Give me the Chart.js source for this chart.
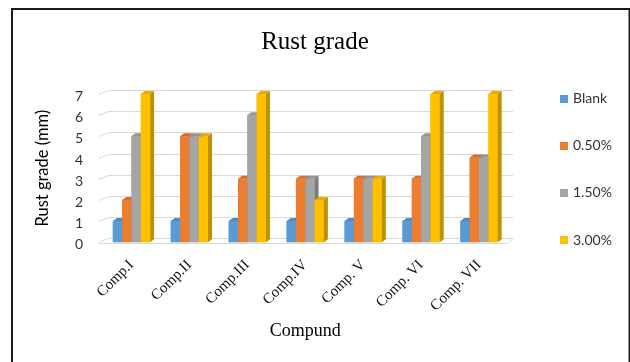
<!DOCTYPE html>
<html>
<head>
<meta charset="utf-8">
<script src="https://cdn.jsdelivr.net/npm/chart.js@4/dist/chart.umd.min.js"></script>
<style>
  html, body { margin: 0; padding: 0; background: #fff; }
</style>
</head>
<body>
<canvas id="c" width="630" height="362"></canvas>
<script>
// Compounds along the x axis
const compounds = ['Comp.I', 'Comp.II', 'Comp.III', 'Comp.IV', 'Comp. V', 'Comp. VI', 'Comp. VII'];

// Rust grade (mm) per inhibitor concentration
const seriesNames = ['Blank', '0.50%', '1.50%', '3.00%'];
const blank  = [1, 1, 1, 1, 1, 1, 1];
const conc05 = [2, 5, 3, 3, 3, 3, 4];
const conc15 = [5, 5, 6, 3, 3, 5, 4];
const conc30 = [7, 5, 7, 2, 3, 7, 7];

// Value axis ticks
const yTicks = [0, 1, 2, 3, 4, 5, 6, 7];

const faceColors = ['#5B9BD5', '#ED7D31', '#A5A5A5', '#FFC000'];
const topColors  = ['#4F8AC0', '#D46E2A', '#949494', '#E6AD00'];
const sideColors = ['#41719C', '#AE5A21', '#7C7C7C', '#BF9000'];

const BAR_DX = 4, BAR_DY = -3;     // bar depth
const WALL_DX = 10, WALL_DY = -4;  // back wall offset

// Frame around the whole figure
const framePlugin = {
  id: 'frame',
  beforeDraw(chart) {
    const ctx = chart.ctx;
    ctx.save();
    ctx.fillStyle = '#fff';
    ctx.fillRect(0, 0, chart.width, chart.height);
    ctx.strokeStyle = '#1a1a1a';
    ctx.lineWidth = 2;
    ctx.strokeRect(12, 9, 617.5, 400);
    ctx.restore();
  }
};

// Back wall gridlines and floor in a light perspective
const wallPlugin = {
  id: 'wall',
  beforeDatasetsDraw(chart) {
    const ctx = chart.ctx;
    const ys = chart.scales.y;
    const { left, right } = chart.chartArea;
    ctx.save();
    ctx.strokeStyle = '#d9d9d9';
    ctx.lineWidth = 1;
    yTicks.forEach(v => {
      const y = Math.round(ys.getPixelForValue(v)) + 0.5;
      const x0 = left - 4;
      ctx.beginPath();
      ctx.moveTo(x0, y);
      ctx.lineTo(x0 + WALL_DX, y + WALL_DY);
      ctx.lineTo(right + 5, y + WALL_DY);
      ctx.stroke();
      if (v === 0) {
        ctx.beginPath();
        ctx.moveTo(x0, y + 1);
        ctx.lineTo(right - 1, y + 1);
        ctx.lineTo(right + 5, y + WALL_DY);
        ctx.stroke();
      }
    });
    ctx.restore();
  }
};

// Bars with top and side faces, drawn left to right within each group
const bar3dPlugin = {
  id: 'bar3d',
  afterDatasetsDraw(chart) {
    const ctx = chart.ctx;
    ctx.save();
    chart.data.datasets.forEach((ds, i) => {
      const meta = chart.getDatasetMeta(i);
      meta.data.forEach(el => {
        const w = el.width;
        const l = el.x - w / 2, r = el.x + w / 2;
        const t = el.y, b = el.base;
        ctx.fillStyle = faceColors[i];
        ctx.fillRect(l, t, w, b - t);
        ctx.fillStyle = topColors[i];
        ctx.beginPath();
        ctx.moveTo(l, t);
        ctx.lineTo(r, t);
        ctx.lineTo(r + BAR_DX, t + BAR_DY);
        ctx.lineTo(l + BAR_DX, t + BAR_DY);
        ctx.closePath();
        ctx.fill();
        ctx.fillStyle = sideColors[i];
        ctx.beginPath();
        ctx.moveTo(r, t);
        ctx.lineTo(r + BAR_DX, t + BAR_DY);
        ctx.lineTo(r + BAR_DX, b + BAR_DY);
        ctx.lineTo(r, b);
        ctx.closePath();
        ctx.fill();
      });
    });
    ctx.restore();
  }
};

// Series key on the right
const keyPlugin = {
  id: 'key',
  afterDraw(chart) {
    const ctx = chart.ctx;
    ctx.save();
    ctx.font = '14px Lato, "Liberation Sans", sans-serif';
    ctx.textBaseline = 'middle';
    ctx.textAlign = 'left';
    chart.data.datasets.forEach((ds, i) => {
      const y = 98.5 + i * 47.2;
      ctx.fillStyle = ds.backgroundColor;
      ctx.fillRect(560, Math.round(y - 4), 8, 8);
      ctx.fillStyle = '#333';
      ctx.fillText(ds.label, 573, y);
    });
    ctx.restore();
  }
};

const values = [blank, conc05, conc15, conc30];

new Chart(document.getElementById('c'), {
  type: 'bar',
  data: {
    labels: compounds,
    datasets: seriesNames.map((name, i) => ({
      label: name,
      data: values[i],
      backgroundColor: faceColors[i],
      borderWidth: 0,
      categoryPercentage: 0.643,
      barPercentage: 1.0
    }))
  },
  options: {
    responsive: false,
    devicePixelRatio: 1,
    animation: false,
    layout: { padding: { left: 0, right: 0, top: 0, bottom: 0 } },
    plugins: {
      legend: { display: false },
      tooltip: { enabled: false },
      title: {
        display: true,
        text: 'Rust grade',
        color: '#000',
        font: { family: '"Liberation Serif", "Times New Roman", serif', size: 25, weight: 'normal' },
        padding: { top: 27, bottom: 37 }
      }
    },
    scales: {
      x: {
        grid: { display: false, drawTicks: false },
        border: { display: false },
        ticks: {
          color: '#111',
          font: { family: '"Liberation Serif", "Times New Roman", serif', size: 15 },
          minRotation: 45,
          maxRotation: 45,
          padding: 14
        },
        title: {
          display: true,
          text: 'Compund',
          color: '#000',
          font: { family: '"Liberation Serif", "Times New Roman", serif', size: 18 },
          padding: { top: 0, bottom: 20 }
        },
        afterFit(scale) { scale.height = 119.7; }
      },
      y: {
        min: 0,
        max: 7,
        grid: { display: false, drawTicks: false },
        border: { display: false },
        afterBuildTicks(scale) { scale.ticks = yTicks.map(v => ({ value: v })); },
        ticks: {
          color: '#333',
          font: { family: 'Lato, "Liberation Sans", sans-serif', size: 14 },
          padding: 19.5,
          labelOffset: 2.5
        },
        title: {
          display: true,
          text: 'Rust grade (mm)',
          color: '#000',
          font: { family: 'Lato, "Liberation Sans", sans-serif', size: 16.5 },
          padding: { top: 33, bottom: 0 }
        },
        afterFit(scale) { scale.width = 102.5; }
      },
      // empty right-hand strip that holds the series key
      keyStrip: {
        type: 'linear',
        position: 'right',
        display: true,
        grid: { display: false, drawTicks: false },
        border: { display: false },
        ticks: { display: false },
        afterFit(scale) { scale.width = 122; }
      }
    }
  },
  plugins: [framePlugin, wallPlugin, bar3dPlugin, keyPlugin]
});
</script>
</body>
</html>
